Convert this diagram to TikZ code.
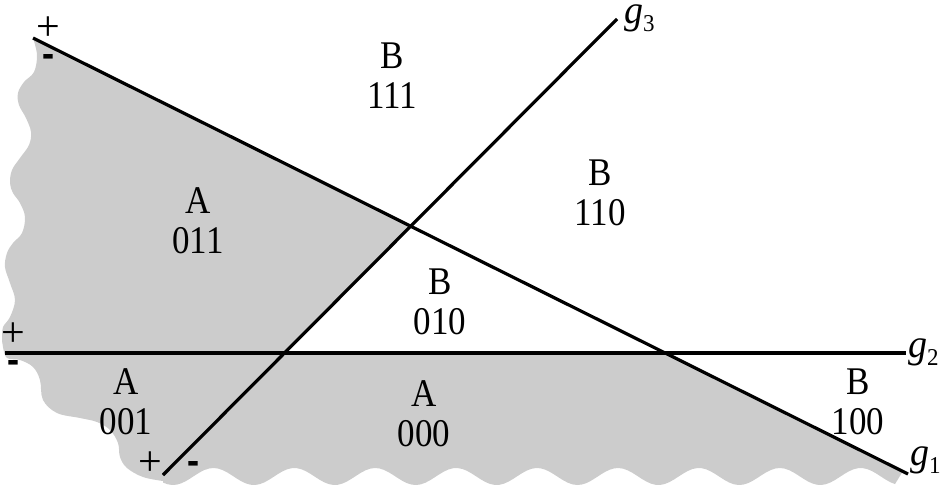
\documentclass[tikz,border=0pt]{standalone}
\usepackage{fontspec}
\setmainfont{Liberation Serif}
\usepackage{graphicx}
\usetikzlibrary{calc}
\definecolor{shadegray}{HTML}{CCCCCC}
\newcommand\vst[2][1.12]{\scalebox{1}[#1]{#2}}
\newcommand\glabel[2]{\vst[1.05]{\textit{#1}}\raisebox{-8pt}{\fontsize{23}{23}\selectfont\vst[1.05]{#2}}}
\tikzset{
  gline/.style={line width=3.2pt},
  reg/.style={align=center, inner sep=0pt, font=\fontsize{35}{40}\selectfont},
  glab/.style={anchor=base west, inner sep=0pt, font=\fontsize{38}{38}\selectfont},
  plus/.style={inner sep=0pt, font=\fontsize{42}{42}\selectfont},
  minus/.style={inner sep=0pt, font=\fontsize{36}{36}\selectfont\bfseries},
}
\begin{document}
\begin{tikzpicture}[x=1pt,y=-1pt]
\useasboundingbox (0,0) rectangle (944,488);
% line end points
\coordinate (g1s) at (33,38);  \coordinate (g1e) at (908,474);
\coordinate (g2s) at (5,353);  \coordinate (g2e) at (906,353);
\coordinate (g3s) at (163,475); \coordinate (g3e) at (617,19);
\coordinate (p13) at (intersection of g1s--g1e and g3s--g3e);
\coordinate (p12) at (intersection of g1s--g1e and g2s--g2e);
\coordinate (p23) at (intersection of g2s--g2e and g3s--g3e);
\coordinate (q) at ($(g1s)!0.994!(g1e)$);
% shaded region
\fill[shadegray] (g1s) -- (p13) -- (p23) -- (p12) -- (q)
  -- plot[domain=895:163, samples=160] (\x,{476.5+8.5*cos(4.4499*(\x-173))})
  -- plot[smooth, tension=0.6] coordinates {
     (163,481) (143,477) (127,468) (120,457) (118,443) (110,430) (97,422)
     (80,418) (57,413) (43,400) (40,380) (33,367) (20,360) (7,358) (3,347)
     (2,337) (3,327) (10,317) (15,300) (10,283) (5,267) (7,253) (13,243)
     (22,233) (25,217) (20,203) (13,193) (10,183) (12,170) (20,158) (29,145)
     (31,132) (26,118) (19,105) (18,93) (24,82) (34,72) (37,55) (33,38)}
  -- cycle;
% lines
\draw[gline] (g1s) -- (g1e);
\draw[gline] (g2s) -- (g2e);
\draw[gline] (g3s) -- (g3e);
% line labels
\node[glab] (lg3) at (624,23) {\glabel{g}{3}};
\node[glab] (lg2) at (908,357) {\glabel{g}{2}};
\node[glab] (lg1) at (910,465) {\glabel{g}{1}};
% region labels
\node[reg] (r111) at (392,76)  {\vst{B}\\\vst{111}};
\node[reg] (r110) at (600,193) {\vst{B}\\\vst{110}};
\node[reg] (r011) at (198,221) {\vst{A}\\\vst{011}};
\node[reg] (r010) at (440,302) {\vst{B}\\\vst{010}};
\node[reg] (r001) at (126,402) {\vst{A}\\\vst{001}};
\node[reg] (r000) at (424,414) {\vst{A}\\\vst{000}};
\node[reg] (r100) at (858,402) {\vst{B}\\\vst{100}};
% signs
\node[plus] (s1p) at (48.5,29) {+};
\node[minus] (s1m) at (48.5,62) {\vst[1.5]{-}};
\node[plus] (s2p) at (13,334.5) {+};
\node[minus] (s2m) at (13,368) {\vst[1.5]{-}};
\node[plus] (s3p) at (150,464) {+};
\node[minus] (s3m) at (193.5,469) {\vst[1.5]{-}};
\end{tikzpicture}
\end{document}
